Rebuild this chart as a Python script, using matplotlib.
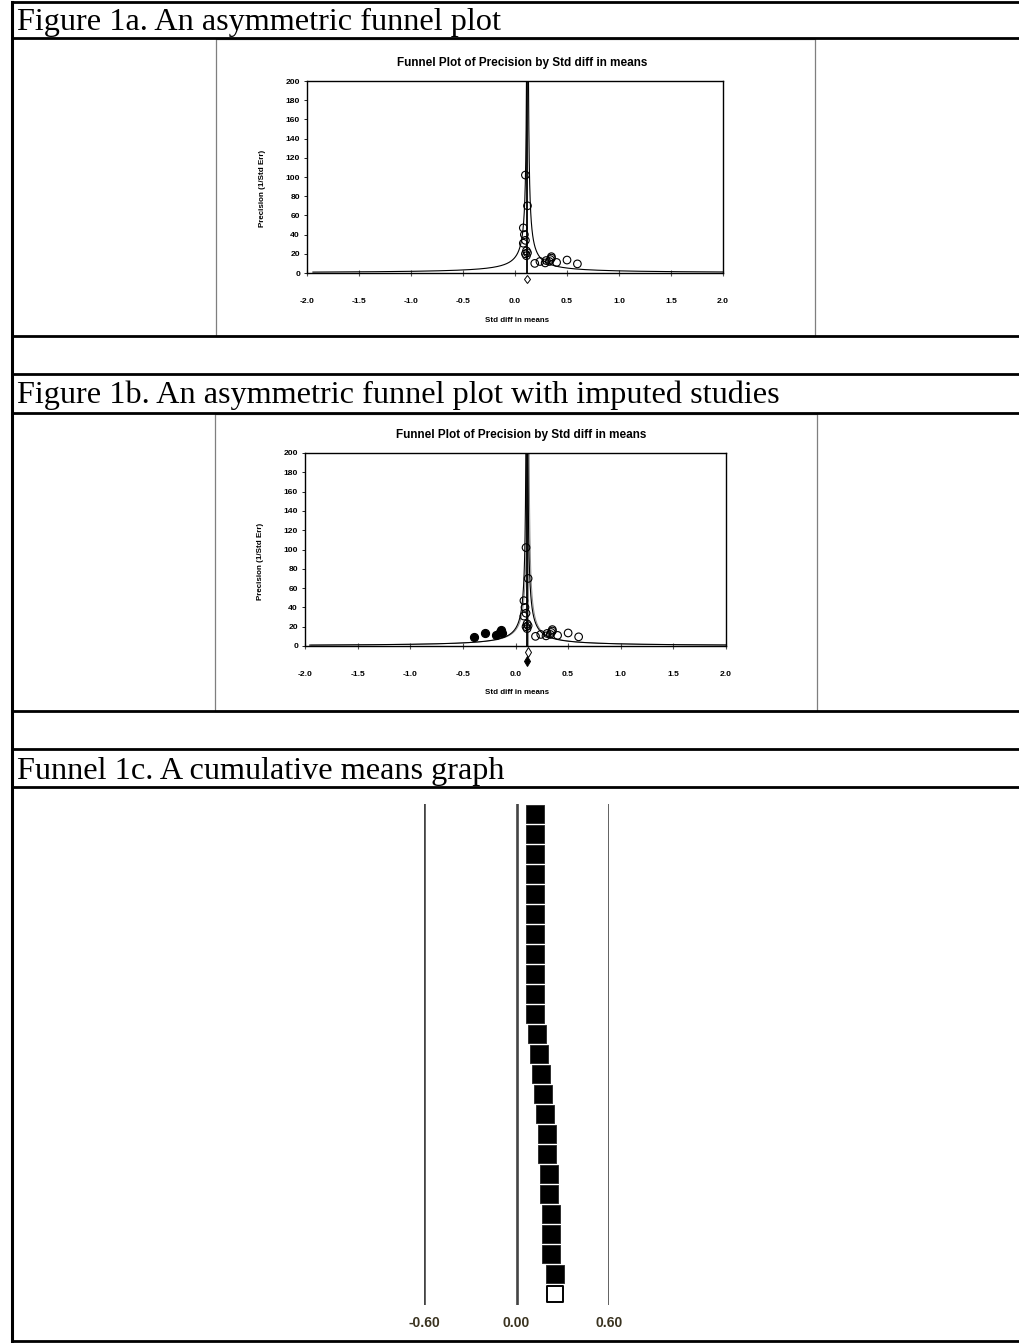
import numpy as np
import matplotlib
matplotlib.use('Agg')
import matplotlib.pyplot as plt
from matplotlib.lines import Line2D
from matplotlib.patches import Rectangle
from matplotlib.transforms import blended_transform_factory

W, H = 1019, 1343
DPI = 100

# observed studies: std diff in means and precision (1/SE)
study_d = [0.10, 0.12, 0.08, 0.09, 0.10, 0.08, 0.11, 0.10, 0.11, 0.12,
           0.19, 0.24, 0.29, 0.30, 0.33, 0.34, 0.35, 0.35, 0.40, 0.50, 0.60]
study_prec = [102, 70, 47, 40, 34, 31, 23, 20, 18, 21,
              10, 12, 10.5, 13, 12, 14, 17, 15.5, 11, 13.5, 9.5]

# studies filled in by trim and fill
imputed_d = [-0.39, -0.29, -0.19, -0.15, -0.13, -0.14]
imputed_prec = [9.5, 13, 11, 15, 13, 17]

mean_obs = 0.12      # combined estimate, observed studies
mean_adj = 0.108     # combined estimate after imputation

# cumulative means, most precise study first
cum_means = [0.12, 0.12, 0.12, 0.12, 0.12, 0.12, 0.12, 0.12, 0.12, 0.12,
             0.12, 0.134, 0.145, 0.160, 0.173, 0.186, 0.199, 0.199, 0.212,
             0.212, 0.225, 0.225, 0.225, 0.251]
cum_final = 0.251
cum_ticks = [-0.60, 0.00, 0.60]
cum_ticklabels = ['-0.60', '0.00', '0.60']

x_ticks = [-2.0, -1.5, -1.0, -0.5, 0.0, 0.5, 1.0, 1.5, 2.0]
y_ticks = list(range(0, 201, 20))

captions = ['Figure 1a. An asymmetric funnel plot',
            'Figure 1b. An asymmetric funnel plot with imputed studies',
            'Funnel 1c. A cumulative means graph']

plt.rcParams['font.family'] = ['Liberation Sans', 'DejaVu Sans']

fig = plt.figure(figsize=(W / DPI, H / DPI), dpi=DPI)
fig.patch.set_facecolor('white')


def fx(x):
    return x / W


def fy(y):
    return 1 - y / H


def box(x0, y0, x1, y1):
    return fig.add_axes([fx(x0), fy(y1), (x1 - x0) / W, (y1 - y0) / H])


def hline(y, x0=12, x1=W, lw=2.0, color='black'):
    fig.add_artist(Line2D([fx(x0), fx(x1)], [fy(y), fy(y)], lw=lw,
                          color=color, transform=fig.transFigure))


def vline(x, y0, y1, lw=2.0, color='black'):
    fig.add_artist(Line2D([fx(x), fx(x)], [fy(y0), fy(y1)], lw=lw,
                          color=color, transform=fig.transFigure))


# table grid
for y in [2, 38, 336, 374, 413, 711, 749, 787, 1341]:
    hline(y)
vline(12, 2, 1341, lw=2.2)

for cap, base in zip(captions, [30, 403, 779]):
    fig.text(fx(17), fy(base), cap, family='Liberation Serif', fontsize=23.2,
             va='baseline', ha='left')


def funnel(ax, centre, color='black', lw=0.8):
    p = np.linspace(0.95, 200, 4000)
    ax.plot(centre - 1.96 / p, p, color=color, lw=lw, zorder=2)
    ax.plot(centre + 1.96 / p, p, color=color, lw=lw, zorder=2)
    ax.axvline(centre, color=color, lw=1.3, zorder=2)


def funnel_chart(frame, axbox, title_xy, xlabel_xy, ylabel_xy):
    fig.add_artist(Rectangle((fx(frame[0]), fy(frame[3])),
                             (frame[2] - frame[0]) / W,
                             (frame[3] - frame[1]) / H,
                             fill=False, edgecolor='#7f7f7f', lw=0.9,
                             transform=fig.transFigure))
    ax = box(*axbox)
    ax.set_xlim(-2, 2)
    ax.set_ylim(0, 200)
    ax.set_xticks(x_ticks)
    ax.set_xticklabels(['%.1f' % t for t in x_ticks])
    ax.set_yticks(y_ticks)
    ax.tick_params(axis='x', direction='inout', length=4, width=0.8,
                   color='#555555', pad=16, labelsize=6.1)
    ax.tick_params(axis='y', direction='out', length=2, width=0.6,
                   pad=3, labelsize=6.1)
    for lab in ax.get_xticklabels() + ax.get_yticklabels():
        lab.set_fontweight('bold')
    for s in ax.spines.values():
        s.set_linewidth(1.0)
    ax.set_ylabel('Precision (1/Std Err)', fontsize=5.8, fontweight='bold')
    ax.yaxis.set_label_coords(*ylabel_xy)
    fig.text(fx(title_xy[0]), fy(title_xy[1]),
             'Funnel Plot of Precision by Std diff in means',
             fontsize=8.5, fontweight='bold', ha='center', va='center')
    fig.text(fx(xlabel_xy[0]), fy(xlabel_xy[1]), 'Std diff in means',
             fontsize=5.7, fontweight='bold', ha='center', va='center')
    return ax


# Figure 1a
ax1 = funnel_chart((216, 39, 815, 336), (307, 81, 723, 273),
                   (522, 63), (517, 320), (-0.099, 0.44))
funnel(ax1, mean_obs)
ax1.scatter(study_d, study_prec, s=30, facecolor='none', edgecolor='black',
            linewidth=0.8, zorder=3)
trans1 = blended_transform_factory(ax1.transData, ax1.transAxes)
ax1.plot([mean_obs], [-0.031], marker='d', ms=4.5, mfc='white', mec='black',
         mew=0.7, transform=trans1, clip_on=False)

# Figure 1b
ax2 = funnel_chart((215, 414, 817, 711), (305, 453, 726, 646),
                   (521, 435), (517, 693), (-0.097, 0.44))
funnel(ax2, mean_obs, color='#8c8c8c', lw=0.7)
funnel(ax2, mean_adj)
ax2.scatter(study_d, study_prec, s=30, facecolor='none', edgecolor='black',
            linewidth=0.8, zorder=3)
ax2.scatter(imputed_d, imputed_prec, s=34, facecolor='black',
            edgecolor='black', linewidth=0.8, zorder=3)
trans2 = blended_transform_factory(ax2.transData, ax2.transAxes)
ax2.plot([mean_obs], [-0.031], marker='d', ms=5, mfc='white', mec='black',
         mew=0.7, transform=trans2, clip_on=False)
ax2.plot([mean_adj], [-0.078], marker='d', ms=5, mfc='black', mec='black',
         mew=0.7, transform=trans2, clip_on=False)

# Funnel 1c: cumulative means
ax3 = box(424, 804, 609, 1305)
ax3.set_xlim(-0.6, 0.6)
n = len(cum_means)
ax3.set_ylim(n + 0.55, -0.5)
for t in cum_ticks:
    ax3.axvline(t, color='#444444', lw=1.9)
rows = np.arange(n)
ax3.scatter(cum_means, rows, marker='s', s=150, color='black',
            edgecolor='#222222', linewidth=0.6, zorder=3)
ax3.scatter([cum_final], [n], marker='s', s=118, facecolor='white',
            edgecolor='black', linewidth=1.4, zorder=3)
ax3.set_yticks([])
ax3.set_xticks(cum_ticks)
ax3.set_xticklabels(cum_ticklabels, fontsize=10, fontweight='bold',
                    color='#3a3320')
ax3.tick_params(axis='x', length=0, pad=8)
for s in ax3.spines.values():
    s.set_visible(False)
ax3.patch.set_alpha(0)

fig.savefig('out.png', dpi=DPI, facecolor='white')
